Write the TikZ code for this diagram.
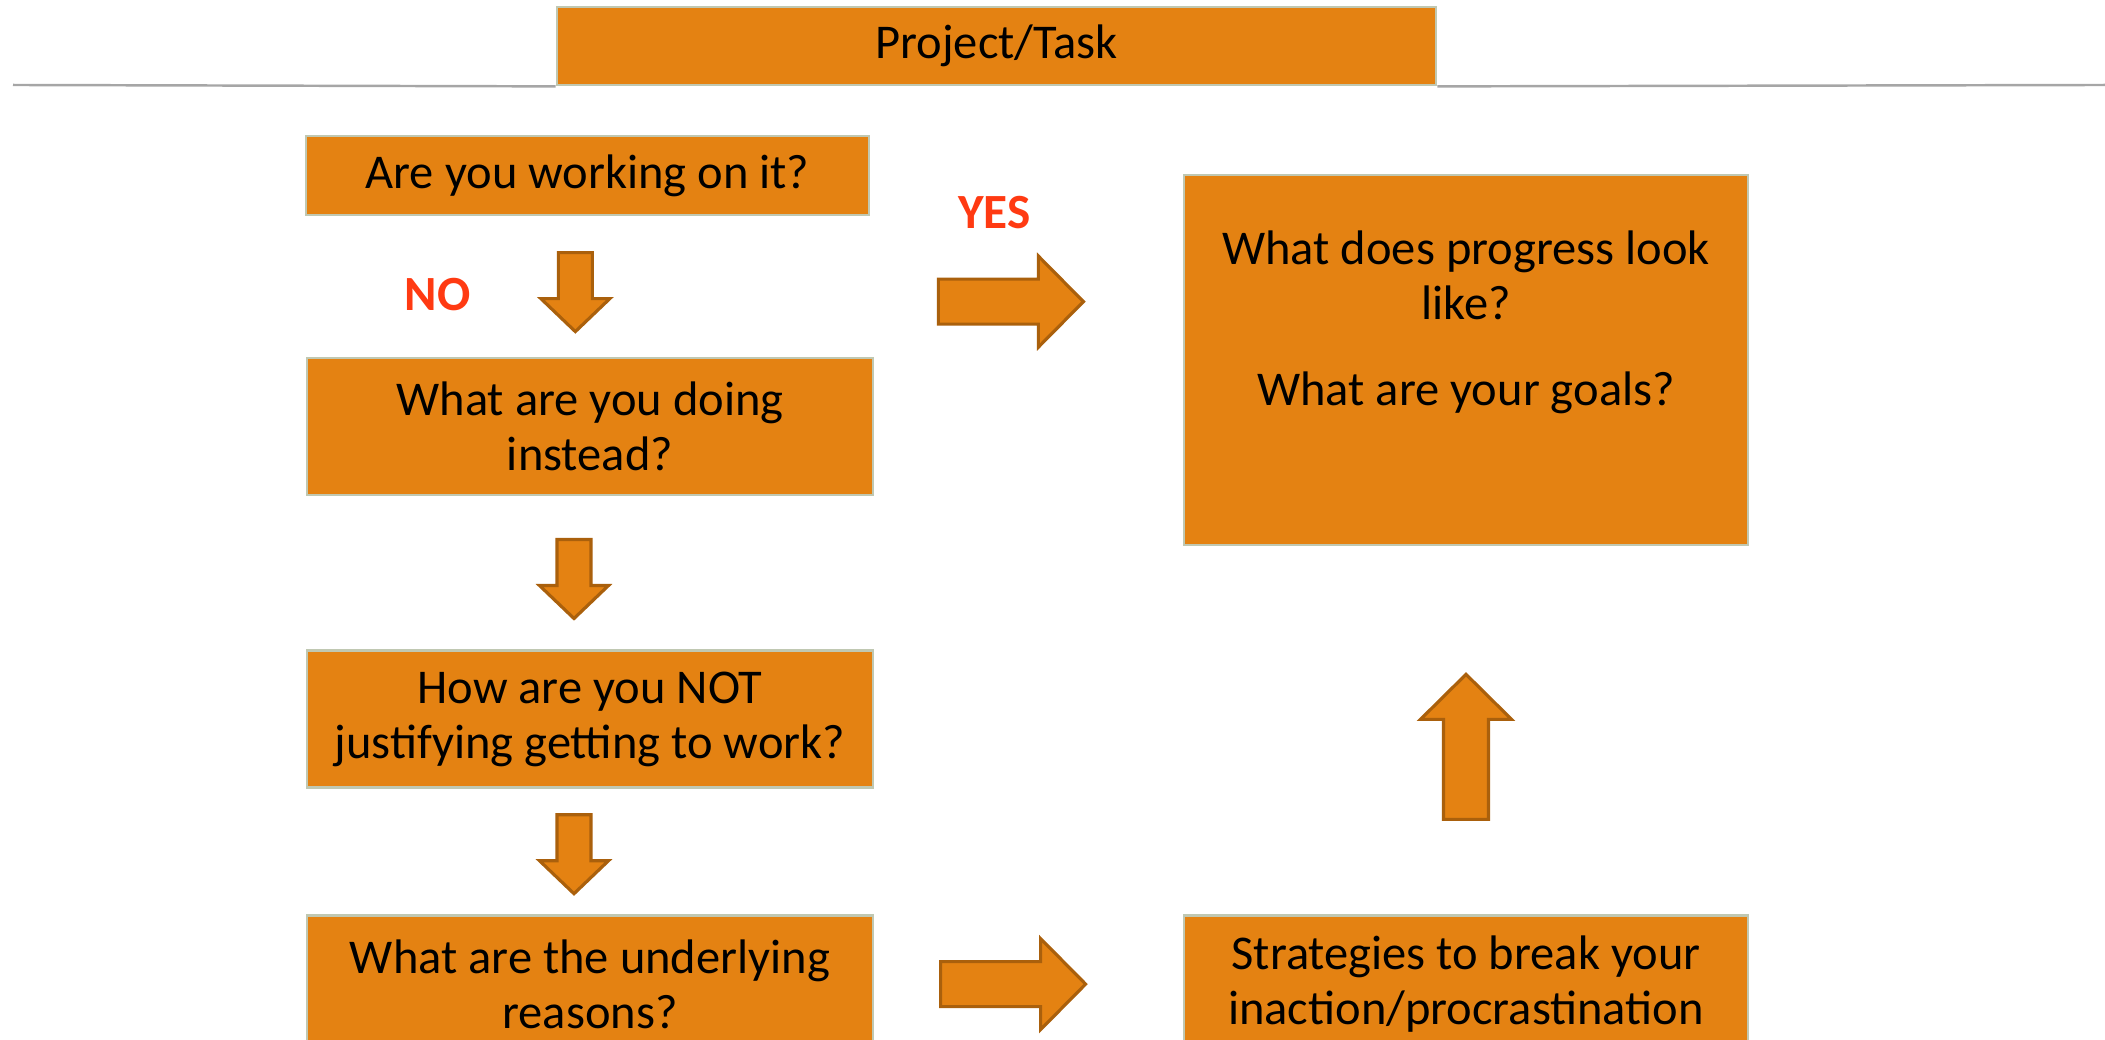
\documentclass[tikz,border=0pt]{standalone}
\usepackage{fontspec}
\setmainfont{Carlito}
\usetikzlibrary{positioning,calc}

\definecolor{boxfill}{RGB}{228,130,18}
\definecolor{boxline}{RGB}{192,200,178}
\definecolor{arrowline}{RGB}{170,96,12}
\definecolor{answerred}{RGB}{255,58,18}
\definecolor{divgray}{RGB}{166,166,166}

\tikzset{
	question/.style={
		rectangle, inner sep=0pt, align=center,
		draw=boxline, line width=0.8pt, fill=boxfill,
		font=\fontsize{13.8}{15.7}\selectfont,
		minimum width=5.66cm, minimum height=1.37cm
	},
	%
	answer/.style={
		text=answerred, font=\fontsize{14}{16}\selectfont\bfseries
	},
	%
	divider/.style={
		draw=divgray, line width=0.7pt
	},
	%
	arrowbody/.style={
		fill=boxfill, draw=arrowline, line width=0.9pt, line join=miter
	},
	%
	pics/smallarrow/.style={
		code={\draw[arrowbody] (-0.395,-0.17) -- (0.065,-0.17) -- (0.065,-0.345) -- (0.395,0) -- (0.065,0.345) -- (0.065,0.17) -- (-0.395,0.17) -- cycle;}
	},
	%
	pics/bigarrow/.style={
		code={\draw[arrowbody] (-0.725,-0.225) -- (0.275,-0.225) -- (0.275,-0.455) -- (0.725,0) -- (0.275,0.455) -- (0.275,0.225) -- (-0.725,0.225) -- cycle;}
	}
}

\begin{document}
\begin{tikzpicture}
    \useasboundingbox (0,0) rectangle (21.05,10.40);
    \node(task)[question, minimum width=8.79cm, minimum height=0.78cm] at (9.965,9.94){Project/Task};
    \coordinate (divL) at (0.13,9.55);
    \coordinate (divR) at (21.05,9.55);
    \draw[divider] (divL) -- (task.south west);
    \draw[divider] (task.south east) -- (divR);
    \node(q1)[question, minimum width=5.63cm, minimum height=0.79cm] at (5.875,8.645){Are you working on it?};
    \node(q2)[question] at (5.90,6.135){What are you doing\\instead?};
    \node(q3)[question, below=1.53cm of q2]{How are you NOT\\justifying getting to work?};
    \node(q4)[question, below=1.25cm of q3]{What are the underlying\\reasons?};
    \node(goals)[question, minimum width=5.64cm, minimum height=3.70cm, text depth=0.84cm] at (14.66,6.80){What does progress look\\like?\\[0.3cm]What are your goals?};
    \node(plan)[question, minimum width=5.64cm] at (q4 -| goals){Strategies to break your\\inaction/procrastination};
    \node(no)[answer] at ($(q1.south)+(-1.5,-0.78)$){NO};
    \node(yes)[answer] at ($(q1.east)+(1.24,-0.37)$){YES};
    \pic[rotate=-90] at ($(q1.south)!.54!(q2.north)+(-0.135,0)$) {smallarrow};
    \pic[rotate=-90] at ($(q2.south)!.54!(q3.north)+(-0.16,0)$) {smallarrow};
    \pic[rotate=-90] at ($(q3.south)!.52!(q4.north)+(-0.16,0)$) {smallarrow};
    \pic at ($(q1.east)!.45!(goals.north west)+(0,-1.27)$) {bigarrow};
    \pic at ($(q4.east)!.45!(plan.west)$) {bigarrow};
    \pic[rotate=90] at ($(plan.north)!.455!(goals.south)$) {bigarrow};
\end{tikzpicture}
\end{document}
